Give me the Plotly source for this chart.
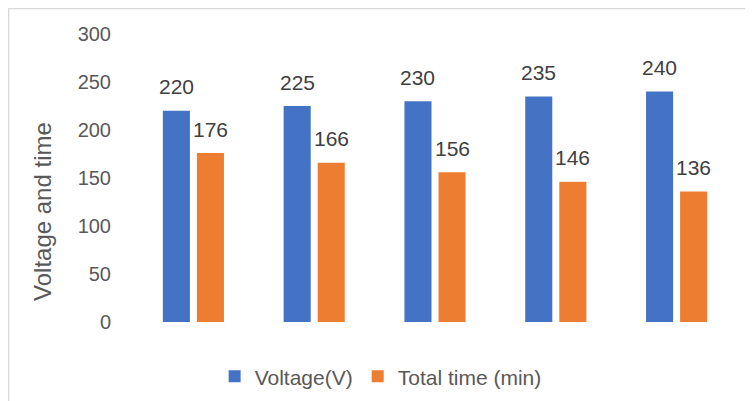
import plotly.graph_objects as go

categories = [0, 1, 2, 3, 4]
voltage = [220, 225, 230, 235, 240]
total_time = [176, 166, 156, 146, 136]
series_names = ["Voltage(V)", "Total time (min)"]
y_ticks = [0, 50, 100, 150, 200, 250, 300]
y_title = "Voltage and time"

BLUE = "#4472C4"
ORANGE = "#ED7D31"
FONT = "Liberation Sans, Arial, sans-serif"

bar_w = 0.224
off_blue = -0.253
off_orange = 0.029

fig = go.Figure()
fig.add_trace(go.Bar(x=categories, y=voltage, name=series_names[0],
                     marker=dict(color=BLUE, line=dict(width=0)),
                     width=bar_w, offset=off_blue))
fig.add_trace(go.Bar(x=categories, y=total_time, name=series_names[1],
                     marker=dict(color=ORANGE, line=dict(width=0)),
                     width=bar_w, offset=off_orange))

annotations = []
for xs, ys, off in [(categories, voltage, off_blue), (categories, total_time, off_orange)]:
    for xv, yv in zip(xs, ys):
        annotations.append(dict(x=xv + off + bar_w / 2, y=yv, xref="x", yref="y",
                                text=str(yv), showarrow=False, yanchor="middle", yshift=24,
                                font=dict(family=FONT, size=21, color="#404040")))

annotations.append(dict(x=-0.149, y=0.382, xref="paper", yref="paper", text=y_title,
                        textangle=-90, showarrow=False, xanchor="center", yanchor="middle",
                        font=dict(family=FONT, size=24, color="#595959")))

fig.update_layout(
    width=745, height=393,
    margin=dict(l=125, r=16, t=26, b=79, autoexpand=False),
    paper_bgcolor="white", plot_bgcolor="white",
    barmode="group",
    showlegend=True,
    legend=dict(orientation="h", x=0.41, xanchor="center", y=-0.19, yanchor="middle",
                font=dict(family=FONT, size=21, color="#595959"),
                traceorder="normal"),
    xaxis=dict(range=[-0.5, 4.5], showticklabels=False, showgrid=False, zeroline=False,
               showline=False, ticks="", automargin=False),
    yaxis=dict(range=[0, 300], tickvals=y_ticks, showgrid=False, zeroline=False,
               showline=False, ticks="", ticklabelstandoff=21, automargin=False,
               tickfont=dict(family=FONT, size=20, color="#595959")),
    annotations=annotations,
    shapes=[dict(type="rect", xref="paper", yref="paper", x0=-0.206, x1=1.5, y0=-1.0, y1=1.0885,
                 line=dict(color="#D9D9D9", width=1.5), fillcolor="rgba(0,0,0,0)", layer="below")],
)

fig.write_html("out.html")
